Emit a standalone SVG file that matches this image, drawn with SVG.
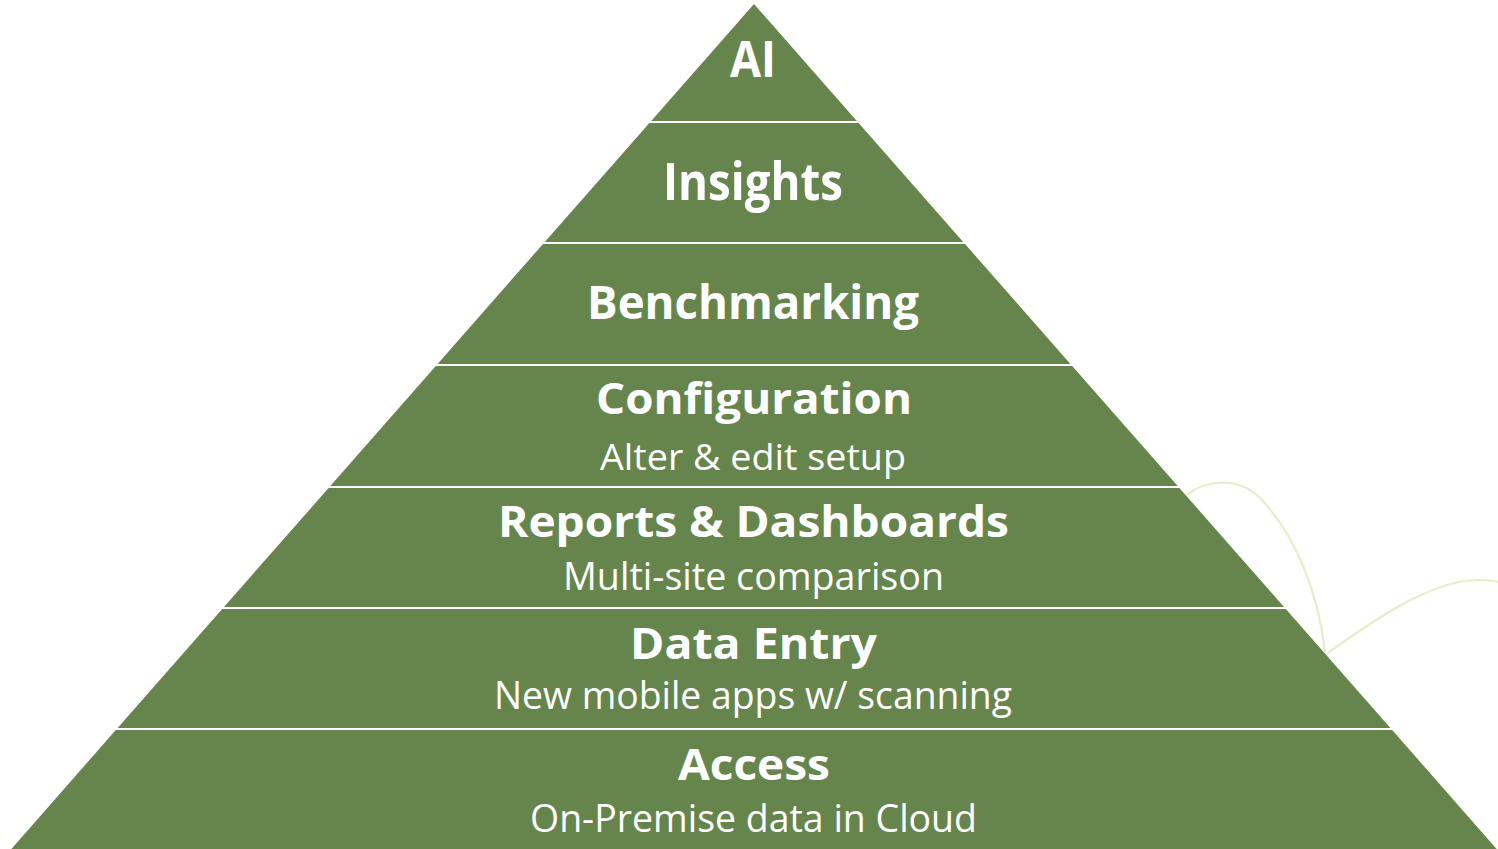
<svg xmlns="http://www.w3.org/2000/svg" width="1498" height="849" viewBox="0 0 1498 849">
<style>
.layer{fill:#66854D}
.t{fill:#FFFFFF;font-family:"Open Sans","Noto Sans","Liberation Sans",sans-serif;text-anchor:middle;font-variant-ligatures:none}
.b{font-weight:700}
.r{font-weight:400}
.deco{fill:none;stroke:#E7ECCB;stroke-width:2.2;stroke-linecap:round}
</style>
<rect x="0" y="0" width="1498" height="849" fill="#FFFFFF"/>
<g id="decor">
<path class="deco" d="M1188,494 C1204,482 1238,474 1262,500 C1295,536 1318,590 1325,652"/>
<path class="deco" d="M1328,653 C1370,623 1430,580 1478,580 C1488,580 1494,581 1498,582"/>
</g>
<g id="layer-ai">
<polygon class="layer" points="754,4 856.8,121 651.2,121"/>
<text class="t b" x="753" y="77" font-size="50" textLength="46" lengthAdjust="spacingAndGlyphs">AI</text>
</g>
<g id="layer-insights">
<polygon class="layer" points="649.4,123 858.6,123 963.2,242 544.8,242"/>
<text class="t b" x="753" y="200" font-size="52" textLength="180" lengthAdjust="spacingAndGlyphs">Insights</text>
</g>
<g id="layer-benchmarking">
<polygon class="layer" points="543,244 965,244 1070.4,364 437.6,364"/>
<text class="t b" x="753" y="319" font-size="46" textLength="332" lengthAdjust="spacingAndGlyphs">Benchmarking</text>
</g>
<g id="layer-configuration">
<polygon class="layer" points="435.8,366 1072.2,366 1177.7,486 330.3,486"/>
<text class="t b" x="754" y="414" font-size="43" textLength="316" lengthAdjust="spacingAndGlyphs">Configuration</text>
<text class="t r" x="753" y="470" font-size="37" textLength="306" lengthAdjust="spacingAndGlyphs">Alter &amp; edit setup</text>
</g>
<g id="layer-reports">
<polygon class="layer" points="328.6,488 1179.4,488 1284,607 224,607"/>
<text class="t b" x="753.5" y="537" font-size="43" textLength="511" lengthAdjust="spacingAndGlyphs">Reports &amp; Dashboards</text>
<text class="t r" x="753.5" y="590" font-size="38" textLength="381" lengthAdjust="spacingAndGlyphs">Multi-site comparison</text>
</g>
<g id="layer-dataentry">
<polygon class="layer" points="222.2,609 1285.8,609 1390.4,728 117.6,728"/>
<text class="t b" x="753.5" y="659" font-size="43" textLength="247" lengthAdjust="spacingAndGlyphs">Data Entry</text>
<text class="t r" x="753" y="709" font-size="38" textLength="518" lengthAdjust="spacingAndGlyphs">New mobile apps w/ scanning</text>
</g>
<g id="layer-access">
<polygon class="layer" points="115.8,730 1392.2,730 1497.5,850 10.5,850"/>
<text class="t b" x="754" y="780" font-size="43" textLength="152" lengthAdjust="spacingAndGlyphs">Access</text>
<text class="t r" x="753.5" y="832" font-size="38" textLength="447" lengthAdjust="spacingAndGlyphs">On-Premise data in Cloud</text>
</g>
<g id="connectors"></g>
</svg>
